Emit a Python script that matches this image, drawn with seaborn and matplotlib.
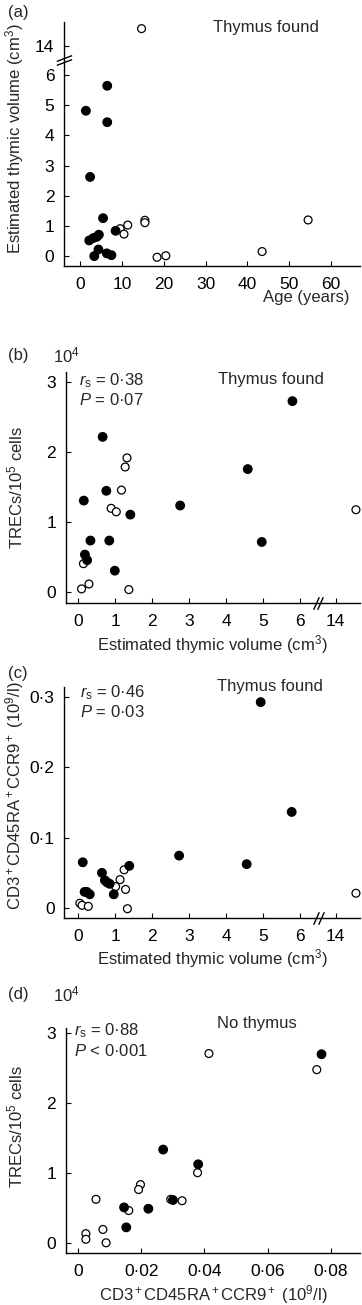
"""
Thymic volume, TRECs and CD3+CD45RA+CCR9+ counts, four stacked panels.
Volume axes are broken between 6 and 14 cm3.
"""
# %%
import numpy as np
import pandas as pd
import matplotlib
matplotlib.use("Agg")
import matplotlib.pyplot as plt
from matplotlib.ticker import FuncFormatter, NullLocator
import seaborn as sns

# %% Data

# (a) age vs estimated thymic volume
age_filled = [1.4, 6.5, 6.5, 2.4, 5.5, 8.5, 2.2, 3.2, 4.0, 4.5, 4.4, 3.4, 6.4, 7.5]
vol_a_filled = [4.82, 5.65, 4.44, 2.62, 1.25, 0.83, 0.51, 0.59, 0.63, 0.70, 0.21, -0.01, 0.08, 0.02]
age_open = [14.7, 9.6, 11.4, 10.5, 15.5, 15.5, 18.4, 20.5, 43.5, 54.5]
vol_a_open = [14.58, 0.90, 1.02, 0.72, 1.18, 1.10, -0.05, 0.0, 0.14, 1.19]

# (b) thymic volume vs TRECs (x10^4 / 10^5 cells)
vol_b_filled = [0.66, 5.80, 4.59, 2.76, 4.97, 0.76, 0.15, 1.41, 0.33, 0.84, 0.18, 0.24, 0.99]
trec_b_filled = [2.21, 2.72, 1.75, 1.23, 0.71, 1.44, 1.30, 1.10, 0.73, 0.73, 0.53, 0.45, 0.30]
vol_b_open = [1.32, 1.27, 1.17, 0.89, 1.03, 0.14, 0.29, 0.09, 1.37, 14.55]
trec_b_open = [1.91, 1.78, 1.45, 1.19, 1.14, 0.40, 0.11, 0.04, 0.03, 1.17]

# (c) thymic volume vs CD3+CD45RA+CCR9+ (10^9/l)
vol_c_filled = [4.94, 5.78, 2.73, 4.56, 0.12, 1.38, 0.64, 0.72, 0.78, 0.85, 0.17, 0.23, 0.31, 0.96]
ccr9_c_filled = [0.293, 0.1365, 0.0742, 0.062, 0.0647, 0.0596, 0.0496, 0.039, 0.036, 0.034,
                 0.0225, 0.0225, 0.019, 0.019]
vol_c_open = [1.24, 1.13, 1.01, 1.28, 0.04, 0.10, 0.27, 1.33, 14.55]
ccr9_c_open = [0.054, 0.040, 0.030, 0.026, 0.0063, 0.0034, 0.0019, -0.0015, 0.0206]

# (d) no thymus: CD3+CD45RA+CCR9+ vs TRECs
ccr9_d_filled = [0.0771, 0.0269, 0.0380, 0.0145, 0.0222, 0.0300, 0.0152]
trec_d_filled = [2.69, 1.33, 1.12, 0.505, 0.486, 0.61, 0.22]
ccr9_d_open = [0.0414, 0.0756, 0.0378, 0.0197, 0.0191, 0.0056, 0.0293, 0.0329, 0.0160,
               0.0078, 0.0024, 0.0024, 0.0088]
trec_d_open = [2.70, 2.47, 1.00, 0.83, 0.76, 0.62, 0.62, 0.60, 0.46, 0.19, 0.13, 0.05, 0.00]

vol_ticks = [0, 1, 2, 3, 4, 5, 6, 14]
stats_b = ["0·38", "0·07"]
stats_c = ["0·46", "0·03"]
stats_d = ["0·88", "0·001"]

# %% Broken axis as a function scale: 6.5..13.55 squeezed to nothing
B0, B1, GAP = 6.5, 13.55, 0.02
SHIFT = B1 - (B0 + GAP)


def fwd(v):
    v = np.asarray(v, dtype=float)
    return np.where(v <= B0, v, np.where(v <= B1, B0 + (v - B0) * GAP / (B1 - B0), v - SHIFT))


def inv(t):
    t = np.asarray(t, dtype=float)
    return np.where(t <= B0, t, np.where(t <= B0 + GAP, B0 + (t - B0) * (B1 - B0) / GAP, t + SHIFT))


def frame(x_f, y_f, x_o, y_o, xname, yname):
    # open first so the filled dots sit on top
    return pd.concat([
        pd.DataFrame({xname: x_o, yname: y_o, "group": "open"}),
        pd.DataFrame({xname: x_f, yname: y_f, "group": "filled"}),
    ], ignore_index=True)


def dots(df, x, y, ax):
    sns.scatterplot(data=df, x=x, y=y, hue="group", size="group",
                    palette={"filled": "black", "open": "white"},
                    sizes={"filled": 38, "open": 32},
                    edgecolor="black", linewidth=0.9, legend=False,
                    clip_on=False, ax=ax)


dot_fmt = FuncFormatter(lambda v, p: f"{v:g}".replace(".", "·"))

# %% Style
sns.set_style("ticks")
plt.rcParams["font.family"] = ["Liberation Sans", "DejaVu Sans"]
plt.rcParams.update({
    "font.size": 12,
    "mathtext.fontset": "custom",
    "mathtext.rm": "Liberation Sans",
    "mathtext.it": "Liberation Sans:italic",
    "mathtext.bf": "Liberation Sans:bold",
    "xtick.direction": "in",
    "ytick.direction": "in",
    "xtick.major.size": 3.5,
    "ytick.major.size": 3.5,
    "xtick.major.pad": 8,
    "ytick.major.pad": 7,
    "xtick.labelsize": 12.5,
    "ytick.labelsize": 12.5,
    "axes.linewidth": 1.0,
    "axes.edgecolor": "black",
    "xtick.color": "black",
    "ytick.color": "black",
})

fig = plt.figure(figsize=(3.62, 13.05), dpi=100)
W, H = 362, 1305


def add_axes(left, top, bottom, right=360):
    return fig.add_axes([left / W, 1 - bottom / H, (right - left) / W, (bottom - top) / H])


ax_a = add_axes(64, 21.7, 266)
ax_b = add_axes(65.7, 371.7, 602.7)
ax_c = add_axes(64.3, 686.7, 917.7)
ax_d = add_axes(65.7, 1028.3, 1253.3)

for ax in (ax_a, ax_b, ax_c, ax_d):
    sns.despine(ax=ax)

vol_label = r"Estimated thymic volume (cm$^3$)"
trec_label = r"TRECs/10$^5$ cells"
ccr9_label = r"CD3$^+$CD45RA$^+$CCR9$^+$ (10$^9$/l)"

ybreak = dict(marker=[(-1, -0.38), (1, 0.38)], markersize=11, linestyle="none",
              color="black", mec="black", mew=1.0, clip_on=False)
xbreak = dict(marker=[(-0.45, -1), (0.45, 1)], markersize=9, linestyle="none",
              color="black", mec="black", mew=1.0, clip_on=False)
mid = B0 + GAP / 2

# %% (a)
df_a = frame(age_filled, vol_a_filled, age_open, vol_a_open, "age", "vol")
ax_a.set_yscale("function", functions=(fwd, inv))
dots(df_a, "age", "vol", ax_a)
ax_a.set_xlim(-3.83, 66.9)
ax_a.set_ylim(-0.34, 7.78 + SHIFT)
ax_a.set_xticks(range(0, 70, 10))
ax_a.set_yticks(vol_ticks)
ax_a.yaxis.set_major_formatter(dot_fmt)
ax_a.yaxis.set_minor_locator(NullLocator())
ax_a.plot([0, 0], [inv(fwd(mid) - 0.075), inv(fwd(mid) + 0.075)],
          transform=ax_a.get_yaxis_transform(), **ybreak)
ax_a.set_xlabel("Age (years)", ha="right", va="center")
ax_a.xaxis.set_label_coords(0.966, -0.128)
ax_a.set_ylabel(vol_label, va="center")
ax_a.yaxis.set_label_coords(-0.166, 0.52)
ax_a.text(0.681, 0.975, "Thymus found", transform=ax_a.transAxes, ha="center", va="center")
fig.text(8 / W, 1 - 12 / H, "(a)", va="center")

# %% (b)
df_b = frame(vol_b_filled, trec_b_filled, vol_b_open, trec_b_open, "vol", "trec")
ax_b.set_xscale("function", functions=(fwd, inv))
dots(df_b, "vol", "trec", ax_b)
ax_b.set_xlim(-0.34, 7.63 + SHIFT)
ax_b.set_ylim(-0.157, 3.14)
ax_b.set_xticks(vol_ticks)
ax_b.set_yticks([0, 1, 2, 3])
ax_b.xaxis.set_minor_locator(NullLocator())
ax_b.plot([inv(fwd(mid) - 0.06), inv(fwd(mid) + 0.06)], [0, 0],
          transform=ax_b.get_xaxis_transform(), **xbreak)
ax_b.set_xlabel(vol_label, va="center")
ax_b.xaxis.set_label_coords(0.5, -0.183)
ax_b.set_ylabel(trec_label, va="center")
ax_b.yaxis.set_label_coords(-0.172, 0.50)
ax_b.text(0.696, 0.968, "Thymus found", transform=ax_b.transAxes, ha="center", va="center")
ax_b.text(0.045, 0.96, r"$r_{\mathrm{s}}$ = " + stats_b[0], transform=ax_b.transAxes, va="center")
ax_b.text(0.045, 0.877, r"$P$ = " + stats_b[1], transform=ax_b.transAxes, va="center")
fig.text(8 / W, 1 - 355 / H, "(b)", va="center")
fig.text(53 / W, 1 - 355 / H, r"10$^4$", va="center")

# %% (c)
df_c = frame(vol_c_filled, ccr9_c_filled, vol_c_open, ccr9_c_open, "vol", "ccr9")
ax_c.set_xscale("function", functions=(fwd, inv))
dots(df_c, "vol", "ccr9", ax_c)
ax_c.set_xlim(-0.38, 7.63 + SHIFT)
ax_c.set_ylim(-0.0143, 0.315)
ax_c.set_xticks(vol_ticks)
ax_c.set_yticks([0, 0.1, 0.2, 0.3])
ax_c.yaxis.set_major_formatter(dot_fmt)
ax_c.xaxis.set_minor_locator(NullLocator())
ax_c.plot([inv(fwd(mid) - 0.06), inv(fwd(mid) + 0.06)], [0, 0],
          transform=ax_c.get_xaxis_transform(), **xbreak)
ax_c.set_xlabel(vol_label, va="center")
ax_c.xaxis.set_label_coords(0.5, -0.179)
ax_c.set_ylabel(ccr9_label, va="center")
ax_c.yaxis.set_label_coords(-0.167, 0.53)
ax_c.text(0.697, 1.0, "Thymus found", transform=ax_c.transAxes, ha="center", va="center")
ax_c.text(0.053, 0.974, r"$r_{\mathrm{s}}$ = " + stats_c[0], transform=ax_c.transAxes, va="center")
ax_c.text(0.053, 0.892, r"$P$ = " + stats_c[1], transform=ax_c.transAxes, va="center")
fig.text(8 / W, 1 - 673 / H, "(c)", va="center")

# %% (d)
df_d = frame(ccr9_d_filled, trec_d_filled, ccr9_d_open, trec_d_open, "ccr9", "trec")
dots(df_d, "ccr9", "trec", ax_d)
ax_d.set_xlim(-0.004, 0.0893)
ax_d.set_ylim(-0.15, 3.06)
ax_d.set_xticks([0, 0.02, 0.04, 0.06, 0.08])
ax_d.set_yticks([0, 1, 2, 3])
ax_d.xaxis.set_major_formatter(dot_fmt)
ax_d.set_xlabel(ccr9_label, va="center")
ax_d.xaxis.set_label_coords(0.5, -0.185)
ax_d.set_ylabel(trec_label, va="center")
ax_d.yaxis.set_label_coords(-0.172, 0.563)
ax_d.text(0.649, 1.022, "No thymus", transform=ax_d.transAxes, ha="center", va="center")
ax_d.text(0.028, 0.988, r"$r_{\mathrm{s}}$ = " + stats_d[0], transform=ax_d.transAxes, va="center")
ax_d.text(0.028, 0.90, r"$P$ < " + stats_d[1], transform=ax_d.transAxes, va="center")
fig.text(8 / W, 1 - 994 / H, "(d)", va="center")
fig.text(53 / W, 1 - 994 / H, r"10$^4$", va="center")

fig.savefig("out.png", dpi=100)
